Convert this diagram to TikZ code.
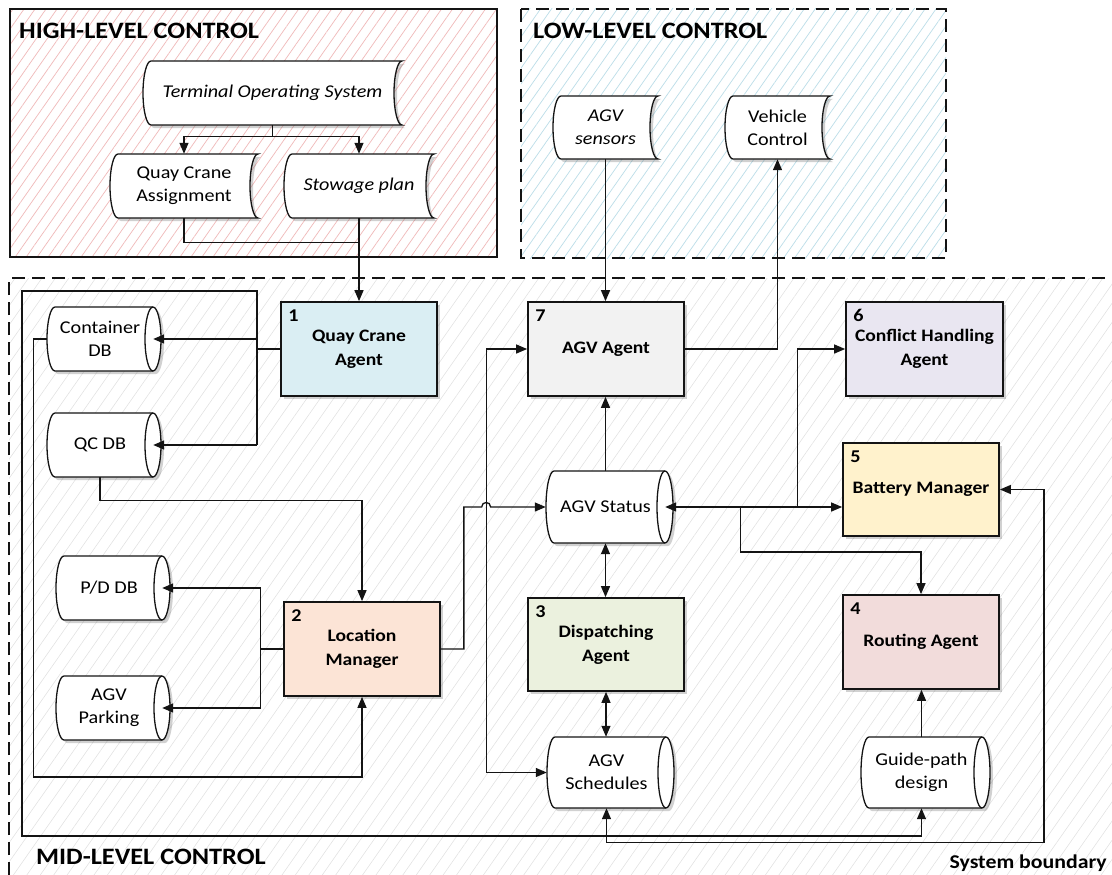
\documentclass[tikz,border=0pt]{standalone}
\usepackage{fontspec}
\setmainfont{Carlito}[FakeStretch=1.12]
\usetikzlibrary{arrows.meta,patterns.meta,shadows,calc}
\definecolor{qcfill}{HTML}{DAEEF3}
\definecolor{agvfill}{HTML}{F2F2F2}
\definecolor{chafill}{HTML}{E9E6F1}
\definecolor{bmfill}{HTML}{FFF2CC}
\definecolor{lmfill}{HTML}{FCE4D6}
\definecolor{dafill}{HTML}{EBF1DE}
\definecolor{rafill}{HTML}{F2DCDB}
\definecolor{pinkhatch}{HTML}{F0B9B9}
\definecolor{bluehatch}{HTML}{BBDDE8}
\definecolor{midhatch}{HTML}{E2E2E2}
\definecolor{ink}{HTML}{141414}
\newcommand\storednode[6]{%
 \draw[shapeln,shd] ({#2+8},#3) .. controls ({#2+3.6},#3) and (#2,{(#3+#5)/2-0.276*(#5-#3)}) .. (#2,{(#3+#5)/2})
   .. controls (#2,{(#3+#5)/2+0.276*(#5-#3)}) and ({#2+3.6},#5) .. ({#2+8},#5) -- (#4,#5)
   .. controls ({#4-4.4},#5) and ({#4-8},{(#3+#5)/2+0.276*(#5-#3)}) .. ({#4-8},{(#3+#5)/2})
   .. controls ({#4-8},{(#3+#5)/2-0.276*(#5-#3)}) and ({#4-4.4},#3) .. (#4,#3) -- cycle;
 \node[txt,minimum width={#4-#2},minimum height={#5-#3}] (#1) at ({(#2+#4)/2},{(#3+#5)/2}) {#6};
}
\newcommand\cylnode[6]{%
 \draw[shapeln,shd] ({#2+8},#3) -- ({#4-8},#3) .. controls ({#4-3.6},#3) and (#4,{(#3+#5)/2-0.276*(#5-#3)}) .. (#4,{(#3+#5)/2})
   .. controls (#4,{(#3+#5)/2+0.276*(#5-#3)}) and ({#4-3.6},#5) .. ({#4-8},#5) -- ({#2+8},#5)
   .. controls ({#2+3.6},#5) and (#2,{(#3+#5)/2+0.276*(#5-#3)}) .. (#2,{(#3+#5)/2})
   .. controls (#2,{(#3+#5)/2-0.276*(#5-#3)}) and ({#2+3.6},#3) .. ({#2+8},#3) -- cycle;
 \draw[shapeln,fill=none] ({#4-8},#3) .. controls ({#4-12.4},#3) and ({#4-16},{(#3+#5)/2-0.276*(#5-#3)}) .. ({#4-16},{(#3+#5)/2})
   .. controls ({#4-16},{(#3+#5)/2+0.276*(#5-#3)}) and ({#4-12.4},#5) .. ({#4-8},#5);
 \node[txt,minimum width={#4-#2-8},minimum height={#5-#3}] (#1) at ({(#2+#4)/2-4},{(#3+#5)/2}) {#6};
}
\newcommand\agentnode[8]{%
 \node[agent,fill=#6,minimum width={#4-#2},minimum height={#5-#3}] (#1) at ({(#2+#4)/2},{(#3+#5)/2}) {#8};
 \node[num,anchor=north west] (#1n) at ($(#1.north west)+(8,8)$) {#7};
}
\begin{document}
\begin{tikzpicture}[x=1pt,y=-1pt,
  shd/.style={drop shadow={shadow xshift=3pt,shadow yshift=-3pt,opacity=0.3,fill=black!60}},
  shapeln/.style={draw=ink,line width=1.3pt,fill=white},
  txt/.style={inner sep=0pt,align=center,font=\fontsize{18}{23}\selectfont},
  agent/.style={draw=ink,line width=1.7pt,inner sep=0pt,align=center,shd,font=\fontsize{17.5}{24}\selectfont\bfseries},
  num/.style={inner sep=0pt,font=\fontsize{18}{20}\selectfont\bfseries},
  title/.style={inner sep=0pt,font=\fontsize{23.5}{28}\selectfont\bfseries},
  line/.style={draw=ink,line width=1.3pt},
  arr/.style={line,-{Triangle[length=11pt,width=9pt]}},
  arr2/.style={line,{Triangle[length=11pt,width=9pt]}-{Triangle[length=11pt,width=9pt]}},
  dashln/.style={draw=ink,line width=1.5pt,dash pattern=on 13pt off 7pt}]
\useasboundingbox (0,0) rectangle (1112,875);
% mid-level region
\fill[pattern={Lines[angle=55,distance=11pt,line width=0.6pt]},pattern color=midhatch] (9,278) rectangle (1112,875);
\draw[dashln] (9,875) -- (9,278) -- (1112,278);
% high-level region
\fill[white] (10,9) rectangle (497,257);
\fill[pattern={Lines[angle=55,distance=9pt,line width=0.7pt]},pattern color=pinkhatch] (10,9) rectangle (497,257);
\draw[line width=1.4pt,draw=ink] (10,9) rectangle (497,257);
% low-level region
\fill[white] (521,9) rectangle (946,258);
\fill[pattern={Lines[angle=55,distance=9pt,line width=0.7pt]},pattern color=bluehatch] (521,9) rectangle (946,258);
\draw[dashln] (521,9) rectangle (946,258);
% titles
\node[title,anchor=base west] (hlt) at (19,39) {HIGH-LEVEL CONTROL};
\node[title,anchor=base west] (llt) at (533,39) {LOW-LEVEL CONTROL};
\node[title,anchor=base west] (mlt) at (36,864) {MID-LEVEL CONTROL};
\node[inner sep=0pt,anchor=base east,font=\fontsize{19.5}{22}\selectfont\bfseries] (sbt) at (1107,868) {System boundary};
% stored data shapes
\storednode{tos}{143}{61}{402}{125}{\itshape Terminal Operating System}
\storednode{qca}{110}{154}{258}{218}{Quay Crane\\Assignment}
\storednode{stow}{284}{154}{434}{218}{\itshape Stowage plan}
\storednode{sens}{553}{96}{658}{159}{\itshape AGV\\\itshape sensors}
\storednode{vc}{725}{96}{830}{159}{Vehicle\\Control}
% databases
\cylnode{cdb}{47}{307}{161}{371}{Container\\DB}
\cylnode{qcdb}{47}{413}{161}{477}{QC DB}
\cylnode{pddb}{56}{556}{170}{620}{P/D DB}
\cylnode{park}{56}{676}{170}{740}{AGV\\Parking}
\cylnode{status}{546}{471}{673}{543}{AGV Status}
\cylnode{sched}{547}{737}{674}{808}{AGV\\Schedules}
\cylnode{gpd}{861}{737}{990}{808}{Guide-path\\design}
% agents
\agentnode{qc}{281}{302}{437}{396}{qcfill}{1}{Quay Crane\\Agent}
\agentnode{agv}{528}{302}{684}{396}{agvfill}{7}{AGV Agent}
\agentnode{cha}{846}{302}{1003}{396}{chafill}{6}{Conflict Handling\\Agent}
\agentnode{bm}{843}{443}{999}{536}{bmfill}{5}{Battery Manager}
\agentnode{lm}{284}{602}{440}{696}{lmfill}{2}{Location\\Manager}
\agentnode{da}{528}{598}{684}{691}{dafill}{3}{Dispatching\\Agent}
\agentnode{ra}{843}{595}{999}{689}{rafill}{4}{Routing Agent}
% connectors
\coordinate (j1) at ($(tos.south)+(0,11)$);
\draw[line] (tos.south) -- (j1);
\draw[arr] (j1) -| (qca.north);
\draw[arr] (j1) -| (stow.north);
\draw[line] (qca.south) |- ($(stow.south)+(0,24)$);
\draw[arr] (stow.south) -- (qc.north);
\draw[arr] (sens.south) -- (sens.south |- agv.north);
\draw[arr] (agv.east) -| (vc.south);
\coordinate (b1) at (257,291);
\coordinate (b2) at (22,291);
\coordinate (b3) at (22,836);
\draw[arr] (qc.west) -- (b1 |- qc.west) -- (b1) -- (b2) -- (b3) -| (gpd.south);
\draw[arr] (b1 |- cdb.east) -- (cdb.east);
\draw[line] (b1 |- qc.west) -- (b1 |- qcdb.east);
\draw[arr] (b1 |- qcdb.east) -- (qcdb.east);
\draw[arr] (cdb.west) -- ++(-13,0) -- ++(0,438) -| (lm.south);
\draw[arr] (qcdb.south) -- ++(0,23) -| (lm.north);
\coordinate (j4) at ($(lm.west)+(-23,0)$);
\draw[line] (lm.west) -- (j4);
\draw[arr] (j4) |- (pddb.east);
\draw[arr] (j4) |- (park.east);
\coordinate (vx) at ($(agv.west)+(-41,0)$);
\draw[arr2] (agv.west) -- (vx) -- (vx |- sched.west) -- (sched.west);
\draw[arr] (lm.east) -- ++(23,0) |- ($(vx |- status.west)+(-4.5,0)$) .. controls +(0,-6) and +(0,-6) .. ($(vx |- status.west)+(4.5,0)$) -- (status.west);
\draw[arr] (status.north) -- (status.north |- agv.south);
\draw[arr2] (status.south) -- (status.south |- da.north);
\draw[arr2] (da.south) -- (da.south |- sched.north);
\draw[arr2] (status.east) -- (status.east -| bm.west);
\coordinate (j6) at ($(status.east)+(75,0)$);
\coordinate (j7) at ($(status.east)+(132,0)$);
\draw[arr] (j7) |- (cha.west);
\draw[arr] (j6) -- ++(0,45) -| (ra.north);
\draw[arr] (gpd.north) -- (gpd.north |- ra.south);
\draw[arr2] (sched.south) -- ++(0,34) -| ($(bm.east)+(44,0)$) -- (bm.east);
\end{tikzpicture}
\end{document}
